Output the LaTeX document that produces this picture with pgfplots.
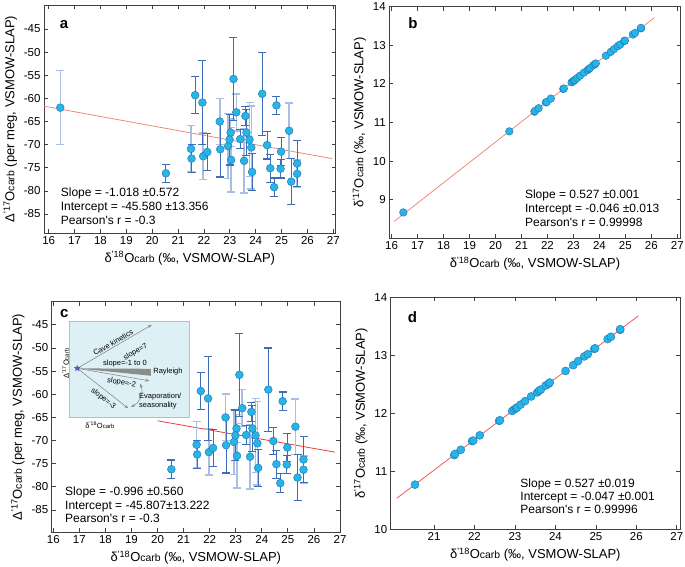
\documentclass[border=0pt]{standalone}
\usepackage{fontspec}
\setmainfont{Liberation Sans}
\usepackage{pgfplots}
\pgfplotsset{compat=1.18}
\usepackage{pgfplotstable}
\usetikzlibrary{arrows.meta,shapes.geometric}

\definecolor{ptfill}{HTML}{29B4E6}
\definecolor{ptedge}{HTML}{1E7FC0}
\definecolor{darkbar}{HTML}{3D6CB9}
\definecolor{lightbar}{HTML}{A8BEE2}
\definecolor{fitab}{HTML}{F08A78}
\definecolor{fitc}{HTML}{EE3B3B}
\definecolor{fitd}{HTML}{EF5B5B}
\definecolor{insetfill}{HTML}{DDF0F6}
\definecolor{insetdraw}{HTML}{B8B8E6}
\definecolor{insetgray}{HTML}{8C8C8C}
\definecolor{starcol}{HTML}{5B55B5}

\makeatletter
\newcommand\carb{{\fontsize{\fpeval{0.8*\f@size}}{0}\selectfont carb}}
\makeatother
\newcommand\dO{δ\textsuperscript{\textquotesingle 18}O\carb}
\newcommand\Dsev{Δ\textsuperscript{\textquotesingle 17}O\carb}
\newcommand\dsev{δ\textsuperscript{\textquotesingle 17}O\carb}

% Delta'17O vs delta'18O, with 1 s.d. error bars
\pgfplotstableread{
x y e
20.53 -76.2 2.0
21.52 -73.0 3.0
21.66 -59.3 4.0
21.94 -60.9 9.0
22.13 -71.6 4.0
22.63 -71.0 6.0
22.99 -68.9 5.5
23.14 -55.8 9.0
23.40 -68.8 2.0
23.60 -63.8 2.0
23.64 -67.4 5.0
23.86 -75.9 4.0
24.25 -59.0 9.0
24.44 -70.1 3.0
24.56 -75.1 3.0
24.71 -79.2 2.0
24.80 -61.5 2.0
24.96 -75.2 2.0
24.98 -71.5 3.0
25.37 -78.0 5.0
25.60 -74.1 5.0
}\darkpts
\pgfplotstableread{
x y e
21.50 -70.9 5.0
21.97 -72.5 5.0
22.61 -65.0 5.0
22.93 -70.3 7.0
23.03 -67.4 3.0
23.05 -73.3 7.0
23.25 -63.0 4.0
23.55 -73.5 7.0
23.76 -68.9 8.0
23.83 -70.6 9.0
25.29 -67.0 6.0
25.60 -76.3 3.0
}\lightpts
% outlier, only in panel a
\pgfplotstableread{
x y e
16.45 -62.0 8.0
}\outlier

% delta'17O vs delta'18O
\pgfplotstableread{
x y
16.45 8.67
20.53 10.77
21.50 11.28
21.52 11.30
21.66 11.37
21.94 11.52
21.97 11.53
22.13 11.62
22.61 11.87
22.63 11.88
22.93 12.04
22.99 12.07
23.03 12.09
23.05 12.10
23.14 12.15
23.25 12.21
23.40 12.29
23.55 12.36
23.60 12.39
23.64 12.41
23.76 12.48
23.83 12.51
23.86 12.53
24.25 12.73
24.44 12.83
24.56 12.90
24.71 12.98
24.80 13.02
24.96 13.11
24.98 13.12
25.29 13.28
25.37 13.32
25.60 13.44
25.60 13.45
}\deltapts

\pgfplotsset{
  panel/.style={
    scale only axis, anchor=south west, clip mode=individual,
    axis line style={draw=black!75, line width=0.8pt},
    tick style={draw=black!75, line width=0.8pt},
    tick align=inside, major tick length=4pt,
    ticklabel style={font=\fontsize{11.5}{13}\selectfont},
    label style={font=\fontsize{13}{15}\selectfont},
    /pgf/number format/assume math mode=true,
    xlabel={\dO\ (‰, VSMOW-SLAP)},
  },
  bars/.style 2 args={only marks, mark=none, forget plot,
    error bars/.cd, y dir=both, y explicit, error mark=-,
    error bar style={draw=#1, line width=#2},
    error mark options={rotate=90, draw=#1, line width=#2, mark size=4pt}},
  pts/.style={only marks, mark=*, mark size=#1,
    mark options={fill=ptfill, draw=ptedge, line width=0.5pt}},
}
\tikzset{
  stat/.style={anchor=base west, inner sep=0pt, font=\fontsize{12}{14}\selectfont},
  letter/.style={anchor=base west, inner sep=0pt, font=\fontsize{15}{17}\selectfont\bfseries},
  tiny/.style={inner sep=0pt, font=\fontsize{7.5}{8.5}\selectfont},
}

\begin{document}
\begin{tikzpicture}
\useasboundingbox (0pt,0pt) rectangle (685pt,567pt);

% a
\begin{axis}[panel, at={(44pt,334pt)}, width=291.7pt, height=228pt,
  xmin=15.82, xmax=27.09, ymin=-89.1, ymax=-39.8,
  xtick={16,...,27}, ytick={-85,-80,...,-45},
  ylabel={\Dsev\ (per meg, VSMOW-SLAP)}]
  \addplot[fitab, line width=0.8pt] coordinates {(15.82,-61.68) (26.95,-73.02)};
  \addplot[bars={lightbar}{1.6pt}] table[x=x, y=y, y error=e] {\outlier};
  \addplot[bars={lightbar}{1.6pt}] table[x=x, y=y, y error=e] {\lightpts};
  \addplot[bars={darkbar}{1.1pt}] table[x=x, y=y, y error=e] {\darkpts};
  \addplot[pts=3.9pt] table[x=x, y=y] {\outlier};
  \addplot[pts=3.9pt] table[x=x, y=y] {\lightpts};
  \addplot[pts=3.9pt] table[x=x, y=y] {\darkpts};
  \node[letter] at (axis cs:16.43,-44.85) {a};
  \node[stat] at (axis cs:16.465,-81.3) {Slope = -1.018 ±0.572};
  \node[stat] at (axis cs:16.465,-84.3) {Intercept = -45.580 ±13.356};
  \node[stat] at (axis cs:16.465,-87.2) {Pearson\textquotesingle s r = -0.3};
\end{axis}

% b
\begin{axis}[panel, at={(389.3pt,328.7pt)}, width=291.4pt, height=231.6pt,
  xmin=15.91, xmax=27.13, ymin=8, ymax=14,
  xtick={16,...,27}, ytick={9,...,14},
  ylabel={\dsev\ (‰, VSMOW-SLAP)}]
  \addplot[fitab, line width=0.8pt] coordinates {(16.1,8.439) (26.12,13.719)};
  \addplot[pts=3.8pt] table[x=x, y=y] {\deltapts};
  \node[letter] at (axis cs:16.64,13.44) {b};
  \node[stat] at (axis cs:21.13,9.02) {Slope = 0.527 ±0.001};
  \node[stat] at (axis cs:21.13,8.66) {Intercept = -0.046 ±0.013};
  \node[stat] at (axis cs:21.13,8.31) {Pearson\textquotesingle s r = 0.99998};
\end{axis}

% c
\begin{axis}[panel, at={(51.7pt,34.7pt)}, width=288.3pt, height=230.6pt,
  xmin=15.94, xmax=27.0, ymin=-89.82, ymax=-40,
  xtick={16,...,27}, ytick={-85,-80,...,-45},
  ylabel={\Dsev\ (per meg, VSMOW-SLAP)}]
  % inset sketch
  \filldraw[fill=insetfill, draw=insetdraw, line width=0.8pt]
    (axis cs:16.60,-44.2) rectangle (axis cs:21.21,-64.9);
  \fill[insetgray] (axis cs:16.92,-54.4) -- (axis cs:19.74,-54.5) -- (axis cs:19.74,-56.0) -- cycle;
  \draw[insetgray, line width=0.6pt, -{Stealth[length=4pt,width=3pt]}]
    (axis cs:16.92,-54.4) -- (axis cs:19.78,-45.0);
  \draw[insetgray, line width=0.6pt, -{Stealth[length=4pt,width=3pt]}]
    (axis cs:16.92,-54.4) -- (axis cs:19.69,-57.1);
  \draw[insetgray, line width=0.6pt, -{Stealth[length=4pt,width=3pt]}]
    (axis cs:16.92,-54.4) -- (axis cs:18.88,-63.05);
  \draw[insetgray, line width=0.6pt, {Stealth[length=4pt,width=3pt]}-{Stealth[length=4pt,width=3pt]}]
    (axis cs:19.33,-57.7) to[bend left=45] (axis cs:18.98,-62.7);
  \node[star, star points=5, star point ratio=2.3, fill=starcol, inner sep=0pt, minimum size=7pt]
    at (axis cs:16.92,-54.4) {};
  \node[tiny, rotate=30] at (axis cs:18.30,-48.8) {Cave kinetics};
  \node[tiny, rotate=30] at (axis cs:19.16,-50.9) {slope=7};
  \node[tiny] at (axis cs:18.75,-53.4) {slope=-1 to 0};
  \node[tiny] at (axis cs:20.40,-55.2) {Rayleigh};
  \node[tiny, rotate=-10] at (axis cs:18.62,-57.5) {slope=-2};
  \node[tiny, rotate=-38] at (axis cs:17.92,-61.0) {slope=-3};
  \node[tiny, anchor=west, align=left] at (axis cs:19.29,-61.5) {Evaporation/\\seasonality};
  \node[tiny, rotate=90] at (axis cs:16.47,-53.3) {\Dsev};
  \node[tiny] at (axis cs:17.79,-66.7) {\dO};
  % data
  \addplot[fitc, line width=0.8pt] coordinates {(20,-65.727) (26.8,-72.50)};
  \addplot[bars={lightbar}{1.6pt}] table[x=x, y=y, y error=e] {\lightpts};
  \addplot[bars={darkbar}{1.1pt}] table[x=x, y=y, y error=e] {\darkpts};
  \addplot[pts=3.9pt] table[x=x, y=y] {\lightpts};
  \addplot[pts=3.9pt] table[x=x, y=y] {\darkpts};
  \node[letter] at (axis cs:16.26,-43.46) {c};
  \node[stat] at (axis cs:16.45,-81.9) {Slope = -0.996 ±0.560};
  \node[stat] at (axis cs:16.45,-84.9) {Intercept = -45.807±13.222};
  \node[stat] at (axis cs:16.45,-87.7) {Pearson\textquotesingle s r = -0.3};
\end{axis}

% d
\begin{axis}[panel, at={(390.7pt,37.7pt)}, width=289.4pt, height=232pt,
  xmin=19.93, xmax=27.08, ymin=10, ymax=14,
  xtick={21,...,27}, ytick={10,...,14},
  ylabel={\dsev\ (‰, VSMOW-SLAP)}]
  \addplot[fitd, line width=0.8pt] coordinates {(20.08,10.535) (26.05,13.681)};
  \addplot[pts=4pt] table[x=x, y=y] {\deltapts};
  \node[letter] at (axis cs:20.35,13.56) {d};
  \node[stat] at (axis cs:23.13,10.72) {Slope = 0.527 ±0.019};
  \node[stat] at (axis cs:23.13,10.49) {Intercept = -0.047 ±0.001};
  \node[stat] at (axis cs:23.13,10.28) {Pearson\textquotesingle s r = 0.99996};
\end{axis}
\end{tikzpicture}
\end{document}
